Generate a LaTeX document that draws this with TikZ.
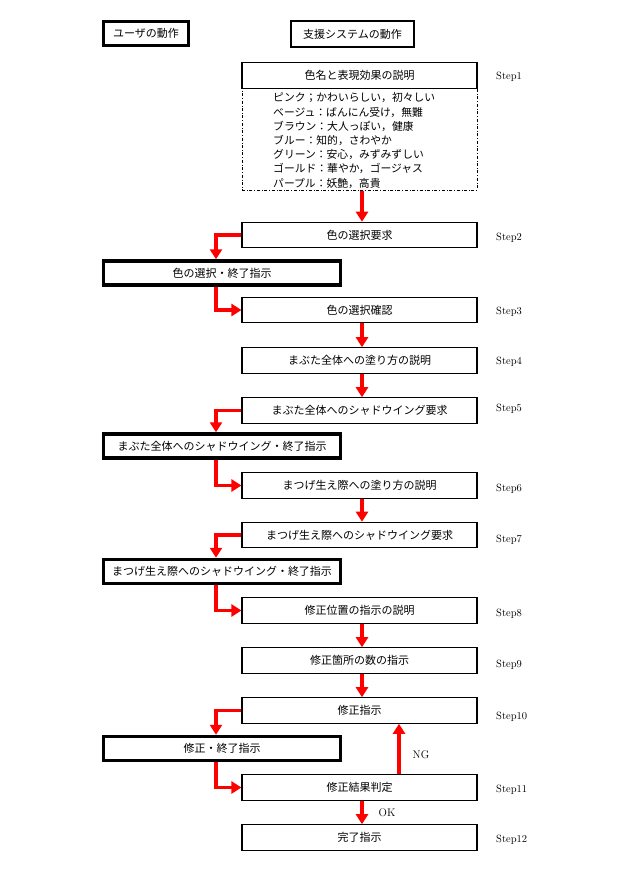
\documentclass[tikz,border=0pt]{standalone}
\usepackage{fontspec}
\newfontfamily\jp{Noto Sans CJK JP}
\usetikzlibrary{arrows.meta}
\begin{document}
\begin{tikzpicture}[x=1pt,y=-1pt,
  sysbox/.style={draw,line width=1.1pt,minimum width=235pt,minimum height=25.5pt,inner sep=0pt,font=\jp\fontsize{11}{13}\selectfont},
  usrbox/.style={draw,line width=3.5pt,minimum width=237pt,minimum height=24pt,inner sep=0pt,font=\jp\fontsize{11}{13}\selectfont},
  steplbl/.style={anchor=west,inner sep=0pt,font=\fontsize{10.5}{12}\selectfont},
  ra/.style={draw=red,line width=3.8pt,-{Triangle[width=12pt,length=10pt]}},
  ynlbl/.style={inner sep=0pt,font=\fontsize{11}{13}\selectfont}]
\useasboundingbox (0,0) rectangle (630,871);
\fill[white] (0,0) rectangle (630,871);
\coordinate (ax) at (362,0);
\coordinate (lx) at (216,0);
\coordinate (ngx) at (399,0);
% headers
\node[draw,line width=3pt,minimum width=85pt,minimum height=24pt,inner sep=0pt,font=\jp\fontsize{11}{13}\selectfont] (hu) at (146,33.5) {ユーザの動作};
\node[draw,line width=1.8pt,minimum width=123pt,minimum height=26pt,inner sep=0pt,font=\jp\fontsize{11}{13}\selectfont] (hs) at (352.5,34) {支援システムの動作};
% system boxes
\node[sysbox] (s1) at (359.5,75.5) {色名と表現効果の説明};
\node[draw,dash dot,line width=1pt,minimum width=235pt,minimum height=102pt,inner sep=0pt] (s1l) at (359.5,139) {};
\node[anchor=west,align=left,inner sep=0pt,font=\jp\fontsize{10.8}{14.2}\selectfont] (s1t) at (273,140.5) {ピンク；かわいらしい，初々しい\\ベージュ：ばんにん受け，無難\\ブラウン：大人っぽい，健康\\ブルー：知的，さわやか\\グリーン：安心，みずみずしい\\ゴールド：華やか，ゴージャス\\パープル：妖艶，高貴};
\node[sysbox] (s2) at (359.5,235) {色の選択要求};
\node[sysbox] (s3) at (359.5,310) {色の選択確認};
\node[sysbox] (s4) at (359.5,360.5) {まぶた全体への塗り方の説明};
\node[sysbox] (s5) at (359.5,410.5) {まぶた全体へのシャドウイング要求};
\node[sysbox] (s6) at (359.5,485.5) {まつげ生え際への塗り方の説明};
\node[sysbox] (s7) at (359.5,535) {まつげ生え際へのシャドウイング要求};
\node[sysbox] (s8) at (359.5,610.5) {修正位置の指示の説明};
\node[sysbox] (s9) at (359.5,660.5) {修正箇所の数の指示};
\node[sysbox] (s10) at (359.5,710.5) {修正指示};
\node[sysbox] (s11) at (359.5,787.5) {修正結果判定};
\node[sysbox] (s12) at (359.5,837.5) {完了指示};
% user boxes
\node[usrbox] (u1) at (222,273) {色の選択・終了指示};
\node[usrbox] (u2) at (222,446) {まぶた全体へのシャドウイング・終了指示};
\node[usrbox] (u3) at (222,571.5) {まつげ生え際へのシャドウイング・終了指示};
\node[usrbox] (u4) at (222,748.5) {修正・終了指示};
% step labels
\node[steplbl] (l1) at (496,77) {Step1};
\node[steplbl] (l2) at (496,238) {Step2};
\node[steplbl] (l3) at (496,312) {Step3};
\node[steplbl] (l4) at (496,362) {Step4};
\node[steplbl] (l5) at (496,409) {Step5};
\node[steplbl] (l6) at (496,489) {Step6};
\node[steplbl] (l7) at (496,540) {Step7};
\node[steplbl] (l8) at (496,614) {Step8};
\node[steplbl] (l9) at (496,665) {Step9};
\node[steplbl] (l10) at (496,717) {Step10};
\node[steplbl] (l11) at (496,790) {Step11};
\node[steplbl] (l12) at (496,840) {Step12};
% arrows
\draw[ra] (s1l.south -| ax) -- (s2.north -| ax);
\draw[ra] (s2.west) -| (lx |- u1.north);
\draw[ra] (lx |- u1.south) |- (s3.west);
\draw[ra] (s3.south -| ax) -- (s4.north -| ax);
\draw[ra] (s4.south -| ax) -- (s5.north -| ax);
\draw[ra] (s5.west) -| (lx |- u2.north);
\draw[ra] (lx |- u2.south) |- (s6.west);
\draw[ra] (s6.south -| ax) -- (s7.north -| ax);
\draw[ra] (s7.west) -| (lx |- u3.north);
\draw[ra] (lx |- u3.south) |- (s8.west);
\draw[ra] (s8.south -| ax) -- (s9.north -| ax);
\draw[ra] (s9.south -| ax) -- (s10.north -| ax);
\draw[ra] (s10.west) -| (lx |- u4.north);
\draw[ra] (lx |- u4.south) |- (s11.west);
\draw[ra] (s11.north -| ngx) -- (s10.south -| ngx);
\draw[ra] (s11.south -| ax) -- (s12.north -| ax);
\node[ynlbl] (ng) at (421,755) {NG};
\node[ynlbl] (ok) at (387,813) {OK};
\end{tikzpicture}
\end{document}
